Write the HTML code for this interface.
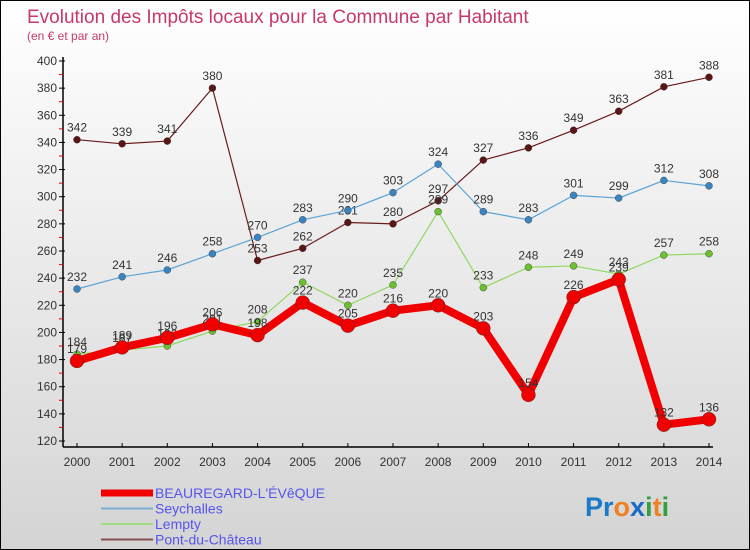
<!DOCTYPE html>
<html><head><meta charset="utf-8"><style>
body{margin:0;}
#c{width:748px;height:548px;border:1px solid #000;background:linear-gradient(#fff,#d4d4d4);position:relative;overflow:hidden;font-family:"Liberation Sans","DejaVu Sans",sans-serif;}
</style></head><body>
<div id="c">
<svg id="s" width="748" height="548" xmlns="http://www.w3.org/2000/svg" style="position:absolute;left:0;top:0">
<text x="26" y="22" font-size="19" fill="#c8386a">Evolution des Impôts locaux pour la Commune par Habitant</text>
<text x="26" y="39" font-size="12" fill="#c8386a">(en € et par an)</text>
<g id="axes"></g><g id="series"></g><g id="legend"></g>
<text x="584" y="515" font-size="27" font-weight="bold"><tspan fill="#1a7ac8">Pr</tspan><tspan fill="#f08020">o</tspan><tspan fill="#1a6ac8">x</tspan><tspan fill="#30a040">i</tspan><tspan fill="#f08020">t</tspan><tspan fill="#30a040">i</tspan></text>
</svg>
</div>
<script>
const years=[2000,2001,2002,2003,2004,2005,2006,2007,2008,2009,2010,2011,2012,2013,2014];
const yTicks=[120,140,160,180,200,220,240,260,280,300,320,340,360,380,400];
const beauregard=[179,189,196,206,198,222,205,216,220,203,154,226,239,132,136];
const seychalles=[232,241,246,258,270,283,290,303,324,289,283,301,299,312,308];
const lempty=[184,187,190,201,208,237,220,235,289,233,248,249,243,257,258];
const pont=[342,339,341,380,253,262,281,280,297,327,336,349,363,381,388];
const NS="http://www.w3.org/2000/svg";
const X=i=>76+i*(708-76)/14;
const Y=v=>60+(400-v)*(440-60)/280;
function el(t,a,p){const e=document.createElementNS(NS,t);for(const k in a)e.setAttribute(k,a[k]);p.appendChild(e);return e;}
const ax=document.getElementById('axes');
let e=el('line',{x1:62,y1:56,x2:62,y2:446,stroke:'#000','stroke-width':1.5},ax);


e=el('line',{x1:62,y1:446,x2:712,y2:446,stroke:'#000','stroke-width':1.5},ax);


yTicks.forEach(v=>{const y=Y(v);el('line',{x1:58,y1:y,x2:64,y2:y,stroke:'#000'},ax);
if(v<400)el('line',{x1:58,y1:y-13.57,x2:62,y2:y-13.57,stroke:'#e00'},ax);
const t=el('text',{x:56,y:y+4,'font-size':12,fill:'#333','text-anchor':'end'},ax);t.textContent=v;

});
years.forEach((yr,i)=>{const x=X(i);el('line',{x1:x,y1:442,x2:x,y2:446,stroke:'#000'},ax);
const t=el('text',{x:x,y:465,'font-size':12,fill:'#333','text-anchor':'middle'},ax);t.textContent=yr;

});
const sg=document.getElementById('series');
const defs=[[pont,'#6a1a1a','#5a1515',1.2,3.5,'pont-du-chateau'],[seychalles,'#5ba3d6','#3a84c0',1.2,3.5,'seychalles'],[lempty,'#90d860','#6cc030',1.2,3.5,'lempty'],[beauregard,'#f00000','#f00000',8,7,'beauregard']];
defs.forEach(([d,lc,pc,w,r,n])=>{
const g=el('g',{},sg);


const p=el('polyline',{points:d.map((v,i)=>X(i)+','+Y(v)).join(' '),fill:'none',stroke:lc,'stroke-width':w,'stroke-linejoin':'round'},g);


d.forEach((v,i)=>{const c=el('circle',{cx:X(i),cy:Y(v),r:r,fill:pc,stroke:'#333','stroke-width':0.4},g);


const t=el('text',{x:X(i),y:Y(v)-8,'font-size':12,fill:'#333','text-anchor':'middle'},g);t.textContent=v;

});
});
const lg=document.getElementById('legend');
[['BEAUREGARD-L\'ÉVêQUE','#f00000',7],['Seychalles','#7aaed0',2],['Lempty','#a0dc80',2],['Pont-du-Château','#8a5050',2]].forEach(([n,c,w],i)=>{
const y=492+i*15.5;
const l=el('line',{x1:100,y1:y,x2:152,y2:y,stroke:c,'stroke-width':w},lg);


const t=el('text',{x:154,y:y+5,'font-size':14,fill:'#5555ee'},lg);t.textContent=n;

});
</script>
</body></html>
